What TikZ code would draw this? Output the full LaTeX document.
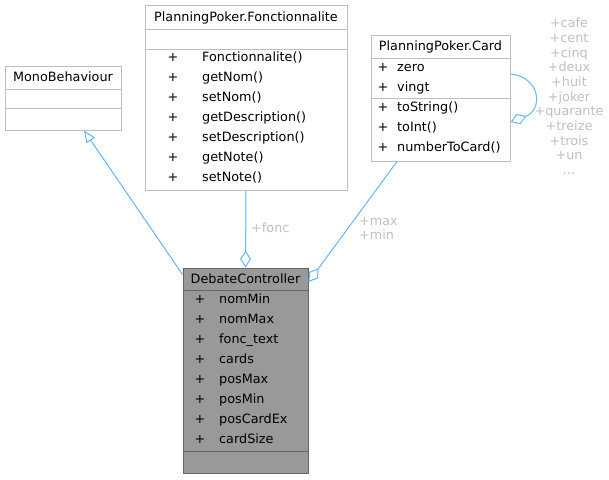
\documentclass[tikz,border=0pt]{standalone}
\usepackage{fontspec}
\setmainfont{DejaVu Sans}
\usetikzlibrary{arrows.meta}
\definecolor{grey75}{HTML}{BFBFBF}
\definecolor{grey40}{HTML}{666666}
\definecolor{grey60}{HTML}{999999}
\definecolor{edgeblue}{HTML}{63B8FF}
\definecolor{lblgray}{HTML}{C0C0C0}
\newcommand{\dfont}{\fontsize{12.8}{14.7}\selectfont}
\tikzset{
  cls/.style={draw=grey75, line width=1pt, fill=white, inner sep=0pt, rectangle},
  hcls/.style={draw=grey40, line width=1pt, fill=grey60, inner sep=0pt, rectangle},
  divl/.style={draw=grey75, line width=1pt},
  hdivl/.style={draw=grey40, line width=1pt},
  txt/.style={inner sep=0pt, text height=9.3pt, text depth=0pt, font=\dfont},
  lbl/.style={txt, text=lblgray},
  conn/.style={draw=edgeblue, line width=1pt},
  inh/.style={conn, -{Triangle[open, length=12pt, width=10pt]}},
  agg/.style={conn, -{Diamond[open, length=17pt, width=11pt]}},
}
\begin{document}
\begin{tikzpicture}[x=1pt, y=-1pt]
\path[use as bounding box, fill=white] (0,0) rectangle (609,479);

% MonoBehaviour
\node[cls, minimum width=116pt, minimum height=64pt] (mono) at (63,98) {};
\draw[divl] (5,89) -- (121,89);
\draw[divl] (5,108) -- (121,108);
\node[txt] (monot) at (63,77) {MonoBehaviour};

% Fonctionnalite
\node[cls, minimum width=202pt, minimum height=185pt] (fonc) at (246,97.5) {};
\draw[divl] (145,29) -- (347,29);
\draw[divl] (145,49) -- (347,49);
\node[txt] (fonct) at (246,17) {PlanningPoker.Fonctionnalite};
\foreach \n/\t [count=\i] in {57/Fonctionnalite(),77/getNom(),97/setNom(),117/getDescription(),137/setDescription(),157/getNote(),177/setNote()}{
  \node[txt] (fp\i) at (173,\n) {+};
  \node[txt, anchor=west] (fm\i) at (202,\n) {\t};
}

% Card
\node[cls, minimum width=139pt, minimum height=126pt] (card) at (440.5,98) {};
\draw[divl] (371,58) -- (510,58);
\draw[divl] (371,98) -- (510,98);
\node[txt] (cardt) at (440.5,46) {PlanningPoker.Card};
\foreach \n/\t [count=\i] in {67/zero,87/vingt,107/toString(),127/toInt(),147/numberToCard()}{
  \node[txt] (cp\i) at (383,\n) {+};
  \node[txt, anchor=west] (cm\i) at (397,\n) {\t};
}

% DebateController
\node[hcls, minimum width=125pt, minimum height=205pt] (debate) at (245.5,370.5) {};
\draw[hdivl] (183,290) -- (308,290);
\draw[hdivl] (183,451) -- (308,451);
\node[txt] (debatet) at (245.5,279) {DebateController};
\foreach \n/\t [count=\i] in {299/nomMin,319/nomMax,339/fonc\_text,359/cards,379/posMax,399/posMin,419/posCardEx,439/cardSize}{
  \node[txt] (dp\i) at (200,\n) {+};
  \node[txt, anchor=west] (dm\i) at (219,\n) {\t};
}

% connectors
\draw[inh] ([yshift=-7pt]debate.north west) -- ([xshift=21pt]mono.south);
\draw[agg] (fonc.south) -- (debate.north);
\draw[agg] ([xshift=-43.5pt]card.south) -- ([yshift=88.5pt]debate.east);
\draw[agg] ([yshift=24pt]card.east) .. controls (541,77) and (543,110) .. ([yshift=-24pt]card.east);

% labels
\node[lbl, anchor=west] (lfonc) at (251,228) {+fonc};
\node[lbl, anchor=west] (lmax) at (359,221) {+max};
\node[lbl, anchor=west] (lmin) at (359,235) {+min};
\foreach \t [count=\i] in {+cafe,+cent,+cinq,+deux,+huit,+joker,+quarante,+treize,+trois,+un}{
  \node[lbl] (le\i) at (569,{23+(\i-1)*14.7}) {\t};
}
\node[lbl] (le11) at (569,170) {\ldots};
\end{tikzpicture}
\end{document}
